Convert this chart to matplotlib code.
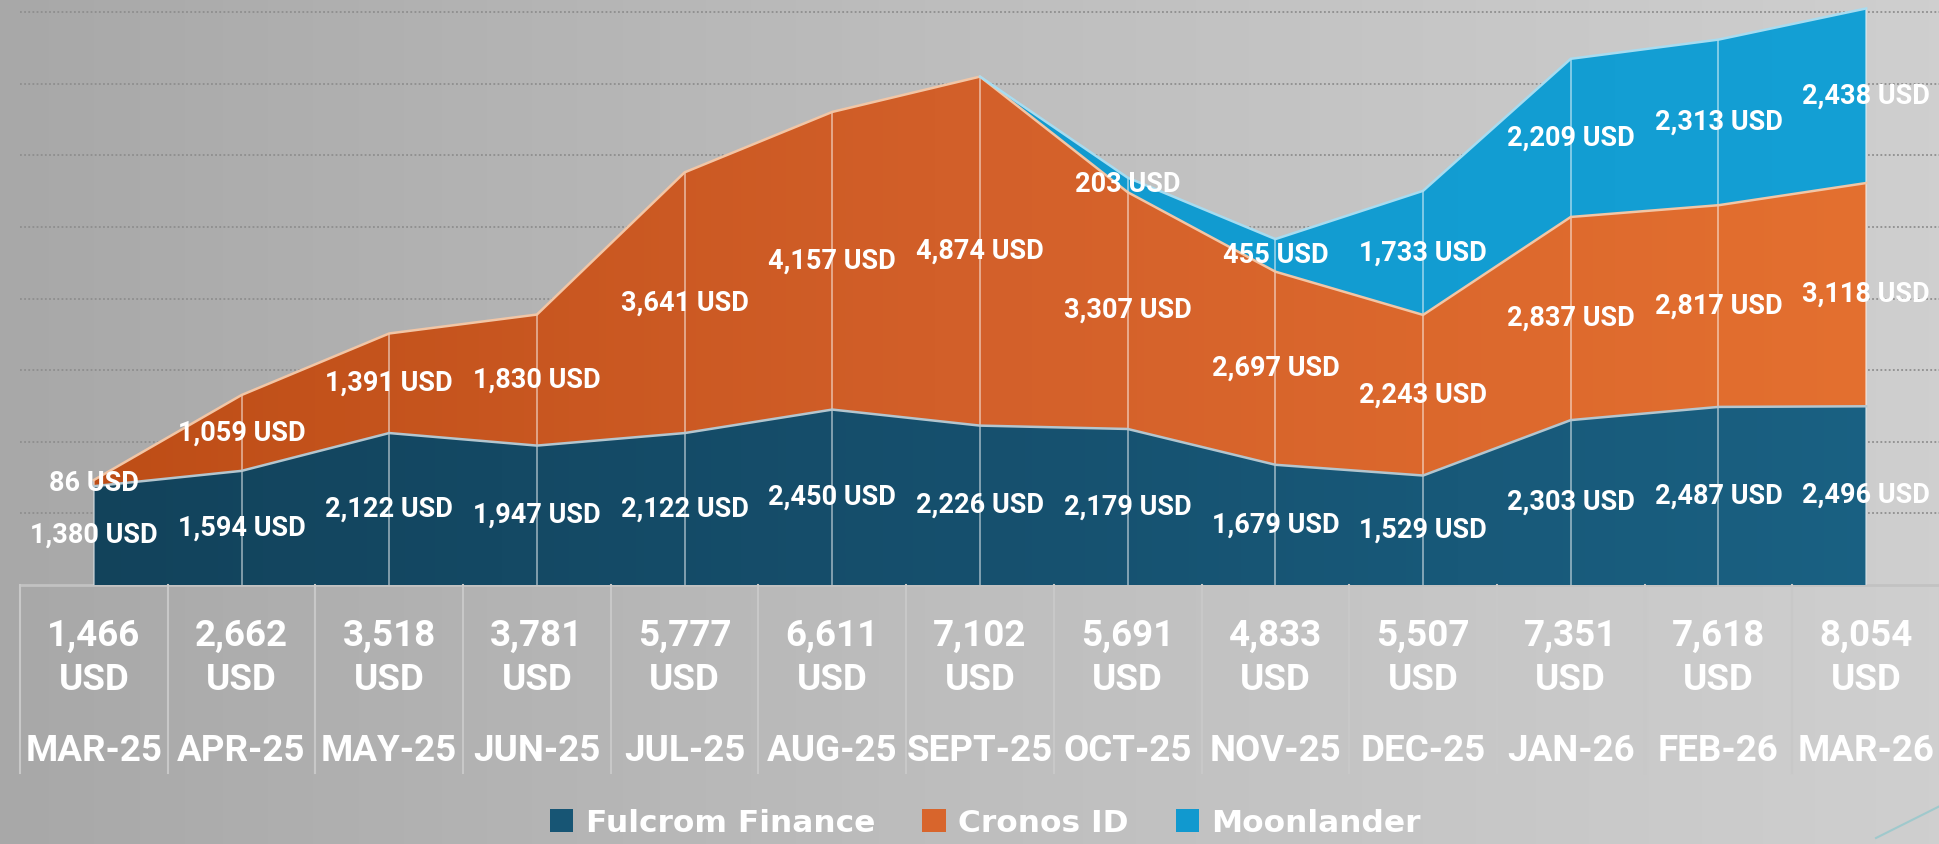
import numpy as np
import matplotlib.pyplot as plt
import matplotlib.transforms as mtransforms
from matplotlib import font_manager
from matplotlib.colors import LinearSegmentedColormap
from matplotlib.patches import PathPatch, Patch
from matplotlib.lines import Line2D

# monthly revenue per product, stacked
months = ['MAR-25', 'APR-25', 'MAY-25', 'JUN-25', 'JUL-25', 'AUG-25', 'SEPT-25',
          'OCT-25', 'NOV-25', 'DEC-25', 'JAN-26', 'FEB-26', 'MAR-26']
fulcrom = [1380, 1594, 2122, 1947, 2122, 2450, 2226, 2179, 1679, 1529, 2303, 2487, 2496]
cronos = [86, 1059, 1391, 1830, 3641, 4157, 4874, 3307, 2697, 2243, 2837, 2817, 3118]
moonlander = [0, 0, 0, 0, 0, 0, 0, 203, 455, 1733, 2209, 2313, 2438]
totals = [1466, 2662, 3518, 3781, 5777, 6611, 7102, 5691, 4833, 5507, 7351, 7618, 8054]
series_names = ['Fulcrom Finance', 'Cronos ID', 'Moonlander']

# gradient colours (left -> right), outline colour, legend colour
fills = [['#12425a', '#16506e', '#1a6284'],
         ['#bc4c15', '#d3602a', '#e57130'],
         ['#0d8cc3', '#119acf', '#14a0d5']]
edges = ['#b4c6cf', '#f2c6a6', '#a8dcf0']
legend_cols = ['#175574', '#d8652c', '#1199cf']

installed = {f.name for f in font_manager.fontManager.ttflist}


def pick(*names):
    for n in names:
        if n in installed:
            return n
    return 'DejaVu Sans'


label_font = pick('Roboto', 'Liberation Sans Narrow', 'DejaVu Sans')
table_font = pick('Roboto', 'Liberation Sans Narrow', 'DejaVu Sans')

W, H = 1940, 844
fig = plt.figure(figsize=(W / 100, H / 100), dpi=100)

# background gradient
bg = fig.add_axes([0, 0, 1, 1], zorder=-10)
bg.axis('off')
grad = np.linspace(0, 1, 256).reshape(1, -1)
bg_cmap = LinearSegmentedColormap.from_list('bg', ['#a8a8a8', '#bebebe', '#cfcfcf'])
bg.imshow(grad, extent=[0, 1, 0, 1], aspect='auto', cmap=bg_cmap, interpolation='bicubic')
bg.set_xlim(0, 1)
bg.set_ylim(0, 1)

base_px = 585
ax = fig.add_axes([20 / W, 1 - base_px / H, 1 - 20 / W, base_px / H])
ax.patch.set_alpha(0)
ymax = 8170

x = np.arange(len(months))
bottom = np.zeros(len(x))
layers = []
for vals in (fulcrom, cronos, moonlander):
    lower = bottom.copy()
    upper = bottom + np.array(vals)
    layers.append((lower, upper))
    bottom = upper

for k, (vals, (lower, upper)) in enumerate(zip((fulcrom, cronos, moonlander), layers)):
    poly = ax.fill_between(x, lower, upper, facecolor='none', edgecolor='none')
    clip = PathPatch(poly.get_paths()[0], transform=ax.transData,
                     facecolor='none', edgecolor='none')
    ax.add_patch(clip)
    cm = LinearSegmentedColormap.from_list('s%d' % k, fills[k])
    im = ax.imshow(grad, extent=[-0.5, 12.5, 0, ymax], aspect='auto', cmap=cm,
                   interpolation='bicubic', zorder=2)
    im.set_clip_path(clip)
    nz = np.nonzero(np.array(vals))[0]
    start = max(nz[0] - 1, 0)
    ax.plot(x[start:], upper[start:], color=edges[k], lw=1.8, zorder=4,
            solid_joinstyle='miter')

# drop lines
ax.vlines(x, 0, bottom, color='white', alpha=0.5, lw=1.3, zorder=3)

# data labels in the middle of each band
for vals, (lower, upper) in zip((fulcrom, cronos, moonlander), layers):
    for i, v in enumerate(vals):
        if v == 0:
            continue
        ax.text(i, (lower[i] + upper[i]) / 2, f'{v:,} USD', ha='center', va='center',
                color='white', fontsize=19.5, fontweight='bold', family=label_font, zorder=6)

ax.set_xlim(-0.5, 12.5)
ax.set_ylim(0, ymax)
ax.set_yticks(range(1000, 9000, 1000))
ax.set_xticks([])
ax.yaxis.grid(True, linestyle=(0, (1, 1.3)), color='#8e8e8e', lw=1.3)
ax.set_axisbelow(True)
ax.tick_params(left=False, labelleft=False)
for s in ax.spines.values():
    s.set_visible(False)

# data table under the chart
trans = mtransforms.blended_transform_factory(ax.transData, ax.transAxes)
tbl_bottom = -(773 - base_px) / base_px
ax.plot([-0.5, 12.5], [0, 0], transform=trans, clip_on=False, color='#c2c2c2', lw=2, zorder=1)
for i in range(len(months) + 1):
    ax.plot([i - 0.5, i - 0.5], [0, tbl_bottom], transform=trans, clip_on=False,
            color='#c8c8c8', lw=1.5)
for i, (m, t) in enumerate(zip(months, totals)):
    ax.text(i, -(636 - base_px) / base_px, f'{t:,}', transform=trans, ha='center',
            va='center', color='white', fontsize=26.5, fontweight='bold', family=table_font)
    ax.text(i, -(680 - base_px) / base_px, 'USD', transform=trans, ha='center',
            va='center', color='white', fontsize=26.5, fontweight='bold', family=table_font)
    ax.text(i, -(751 - base_px) / base_px, m, transform=trans, ha='center',
            va='center', color='white', fontsize=26.5, fontweight='bold', family=table_font)

handles = [Patch(facecolor=c, edgecolor='none', label=n) for c, n in zip(legend_cols, series_names)]
fig.legend(handles=handles, loc='center', bbox_to_anchor=(0.508, 1 - 823 / H), ncol=3,
           frameon=False, prop=dict(family='DejaVu Sans', weight='bold', size=22.5),
           labelcolor='white', handlelength=0.75, handleheight=0.75, handletextpad=0.4,
           columnspacing=1.5)

# faint decorative stroke in the corner
fig.add_artist(Line2D([1876 / W, 1.0], [1 - 838 / H, 1 - 806 / H], color='#9fc9cc',
                      lw=1.5, transform=fig.transFigure))

fig.savefig('out.png', dpi=100)
